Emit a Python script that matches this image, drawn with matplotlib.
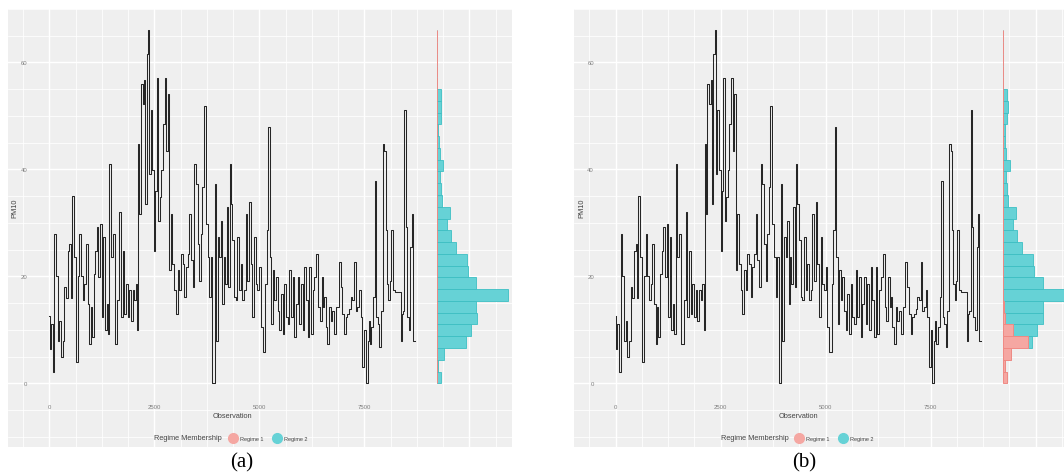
import numpy as np
import matplotlib
matplotlib.use("Agg")
import matplotlib.pyplot as plt
from matplotlib.lines import Line2D

# PM10 series (observation index, value)
obs = [1, 17, 57, 96, 136, 176, 216, 255, 295, 335, 374, 414, 454, 493, 517, 557,
       597, 652, 692, 732, 771, 811, 851, 890, 930, 970, 994, 1033, 1073, 1113,
       1144, 1192, 1232, 1263, 1303, 1343, 1382, 1406, 1446, 1486, 1525, 1589,
       1644, 1684, 1724, 1763, 1803, 1843, 1882, 1922, 1962, 2001,
       2040, 2080, 2104, 2135, 2159, 2199, 2239, 2278, 2302, 2342, 2373, 2397,
       2437, 2477, 2516, 2540, 2580, 2612, 2651, 2691, 2723, 2770, 2810, 2834,
       2874, 2913, 2953, 2993, 3033, 3072, 3112, 3152, 3191, 3231, 3271, 3310,
       3350, 3390, 3430, 3469, 3509, 3549, 3588, 3628, 3660, 3707, 3747, 3787,
       3827, 3866, 3890, 3930, 3946, 3985, 4025, 4065, 4104, 4128, 4168, 4200,
       4247, 4279,
       4302, 4342, 4381, 4421, 4461, 4500, 4540, 4580, 4620, 4659, 4699, 4739,
       4778, 4818, 4858, 4898, 4937, 4977, 5017, 5056, 5120, 5160, 5199, 5239,
       5271, 5310, 5334, 5374, 5414, 5453, 5493, 5533, 5572, 5612, 5652, 5692,
       5731, 5771, 5811, 5850, 5890, 5930, 5969, 6009, 6049, 6089, 6128, 6168,
       6208, 6247, 6287, 6327, 6382, 6430, 6462, 6501, 6541,
       6564, 6604, 6643, 6683, 6723, 6762, 6802, 6866, 6921, 6961, 7001, 7040,
       7080, 7120, 7160, 7199, 7239, 7279, 7318, 7358, 7398, 7437, 7477, 7517,
       7557, 7596, 7620, 7652, 7691, 7739, 7771, 7795, 7834, 7874, 7914, 7954,
       7993, 8025, 8049, 8088, 8120, 8152, 8192, 8271, 8351, 8374, 8406, 8438,
       8470, 8501, 8533, 8573, 8612, 8644, 8676, 8708]
pm10 = [12.5, 6.5, 11.0, 2.1, 28.0, 20.0, 8.0, 11.7, 4.9, 8.0, 18.0, 16.0, 24.8, 26.0, 16.0, 35.1,
        23.6, 4.0, 20.0, 28.0, 20.0, 15.5, 18.6, 26.0, 14.9, 7.4, 14.2, 8.6, 20.5, 24.8,
        29.2, 19.8, 29.8, 12.4, 27.3, 9.9, 14.9, 9.3, 41.0, 23.6, 28.0, 7.4,
        15.5, 32.0, 12.4, 24.8, 13.0, 18.6, 12.4, 17.4, 11.7, 17.4,
        15.5, 18.6, 9.9, 44.8, 31.7, 56.0, 52.2, 56.6, 33.6, 61.6, 66.0, 39.2,
        51.0, 39.8, 24.8, 36.0, 57.0, 30.4, 34.8, 39.8, 48.5, 57.0, 43.5, 54.1,
        21.1, 31.7, 22.3, 17.4, 13.0, 21.1, 17.4, 24.2, 22.3, 16.1, 21.7, 24.2,
        31.7, 23.0, 18.0, 41.0, 37.3, 26.0, 19.2, 28.0, 36.7, 51.9, 29.8, 23.6,
        16.1, 23.6, 0.0, 0.0, 37.3, 8.0, 27.3, 23.6, 30.4, 14.9, 23.6, 18.6,
        32.9, 18.0,
        41.0, 33.6, 26.7, 16.1, 15.5, 27.3, 17.4, 22.3, 15.5, 17.4, 31.7, 19.2,
        33.9, 22.3, 12.4, 27.3, 18.6, 17.4, 21.7, 10.5, 5.8, 18.6, 28.6, 47.9,
        23.6, 11.1, 21.1, 15.5, 19.8, 13.6, 9.9, 16.7, 9.3, 18.6, 12.4, 11.1,
        21.1, 12.4, 19.8, 8.6, 14.9, 19.8, 11.1, 18.6, 9.9, 21.7, 15.5, 8.6,
        21.7, 9.3, 17.4, 19.8, 24.2, 14.2, 11.7, 19.8, 14.2,
        16.1, 10.5, 7.4, 14.2, 11.7, 13.6, 9.3, 14.2, 22.6, 18.0, 13.0, 9.3,
        12.4, 13.0, 13.9, 16.1, 15.5, 22.6, 13.6, 14.2, 17.4, 12.4, 3.0, 9.9,
        0.0, 8.0, 11.7, 7.4, 10.5, 16.1, 37.9, 12.4, 11.1, 6.8, 13.6, 44.8,
        43.5, 28.6, 18.6, 15.5, 19.2, 28.6, 17.4, 17.1, 17.1, 8.0, 13.0, 13.6,
        51.0, 29.2, 12.4, 9.9, 25.5, 31.7, 8.0, 8.0]

# marginal histogram (30 bins), counts
bin_counts = [84, 30, 160, 610, 720, 840, 830, 1500, 830, 650, 630, 400, 300, 210, 280,
              105, 85, 70, 140, 70, 40, 30, 85, 100, 85, 8, 8, 8, 8, 8]
regime1_a = [0] * 30
regime1_b = [84, 30, 160, 525, 210, 35, 28] + [0] * 23

x_ticks = [0, 2500, 5000, 7500]
y_ticks = [0, 20, 40, 60]
legend_labels = ["Regime 1", "Regime 2"]
captions = ["(a)", "(b)"]

W, H = 1064, 477
BG = "#EFEFEF"
PINK_FILL, PINK_EDGE = "#F5A7A2", "#F08A84"
TEAL_FILL, TEAL_EDGE = "#66D2D6", "#3DBFC3"
SANS = ["Liberation Sans", "DejaVu Sans"]


def rect(x, y, w, h):
    return [x / W, 1 - (y + h) / H, w / W, h / H]


fig = plt.figure(figsize=(W / 100, H / 100), dpi=100)
fig.patch.set_facecolor("white")

# pixel frame of the main panel (panel a); panel b is the same shifted right
MAIN = (31, 13, 402, 389)
BGR = (8, 10, 504, 438)
HIST = (436.7, 13, 76, 389)
XLIM = (-436, 9136)
YLIM = (-3.3, 69.4)

pm = np.array(pm10)
edges = np.linspace(pm.min(), pm.max(), len(bin_counts) + 1)
centers = (edges[:-1] + edges[1:]) / 2
bh = edges[1] - edges[0]
total = np.array(bin_counts, dtype=float)

for k, (dx, reg1) in enumerate([(0, regime1_a), (566.4, regime1_b)]):
    mx, my, mw, mh = MAIN
    bx, by, bw, bhh = BGR

    # background with the ggplot-like grid, aligned to the main axes scale
    bg = fig.add_axes(rect(bx + dx, by, bw, bhh), zorder=0)
    bg.set_facecolor(BG)
    sx = (XLIM[1] - XLIM[0]) / mw
    sy = (YLIM[1] - YLIM[0]) / mh
    bg.set_xlim(XLIM[0] - (mx - bx) * sx, XLIM[1] + (bx + bw - mx - mw) * sx)
    bg.set_ylim(YLIM[0] - (by + bhh - my - mh) * sy, YLIM[1] + (my - by) * sy)
    for v in np.arange(-2500, 12500, 625):
        bg.axvline(v, color="white", lw=1.0 if v % 2500 == 0 else 0.55)
    for v in np.arange(-20, 75, 5):
        bg.axhline(v, color="white", lw=1.0 if v % 20 == 0 else 0.55)
    bg.set_xticks([])
    bg.set_yticks([])
    for s in bg.spines.values():
        s.set_visible(False)

    # time series
    ax = fig.add_axes(rect(mx + dx, my, mw, mh), zorder=2)
    ax.set_facecolor("none")
    ax.plot(obs, pm10, drawstyle="steps-mid", color="#262626", lw=0.75)
    ax.set_xlim(*XLIM)
    ax.set_ylim(*YLIM)
    ax.set_xticks(x_ticks)
    ax.set_yticks(y_ticks)
    ax.tick_params(length=0, labelsize=4.3, labelcolor="#7f7f7f", pad=2.5)
    for lab in ax.get_xticklabels() + ax.get_yticklabels():
        lab.set_family(SANS)
    for s in ax.spines.values():
        s.set_visible(False)

    # marginal histogram
    hx, hy, hw, hh = HIST
    hax = fig.add_axes(rect(hx + dx, hy, hw, hh), zorder=2)
    hax.set_facecolor("none")
    r1 = np.array(reg1, dtype=float)
    hax.barh(centers, total - r1, left=r1, height=bh, color=TEAL_FILL,
             edgecolor=TEAL_EDGE, lw=0.6)
    hax.barh(centers, r1, height=bh, color=PINK_FILL, edgecolor=PINK_EDGE, lw=0.7)
    hax.set_ylim(*YLIM)
    hax.set_xlim(0, total.max() * hw / 71.6)
    hax.set_xticks([])
    hax.set_yticks([])
    for s in hax.spines.values():
        s.set_visible(False)

    # axis titles
    fig.text((232 + dx) / W, 1 - 417 / H, "Observation", ha="center", va="center",
             fontsize=5.3, color="#444444", family=SANS)
    fig.text((15 + dx) / W, 1 - 208 / H, "PM10", ha="center", va="center",
             rotation=90, fontsize=5.3, color="#444444", family=SANS)

    # legend
    ly = 1 - 439 / H
    fig.text((188 + dx) / W, ly, "Regime Membership", ha="center", va="center",
             fontsize=5.3, color="#444444", family=SANS)
    for cx, tx, fill, lab in [(233, 240, PINK_FILL, legend_labels[0]),
                              (277, 284, TEAL_FILL, legend_labels[1])]:
        fig.add_artist(Line2D([(cx + dx) / W], [ly], marker="o", markersize=7,
                              color=fill, markeredgecolor=fill, transform=fig.transFigure))
        fig.text((tx + dx) / W, ly, lab, ha="left", va="center", fontsize=4.0,
                 color="#444444", family=SANS)

    # caption
    fig.text((242 + dx - (4 if k else 0)) / W, 1 - 463 / H, captions[k], ha="center",
             va="center", fontsize=15, family=["Liberation Serif", "DejaVu Serif"])

fig.savefig("out.png", dpi=100)
